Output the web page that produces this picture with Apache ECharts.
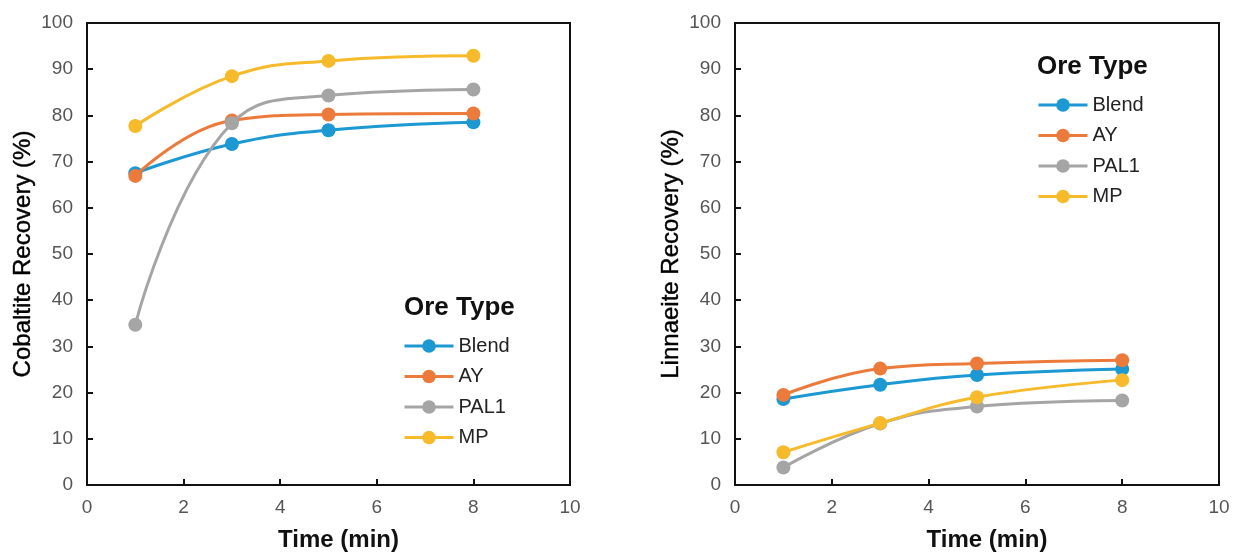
<!DOCTYPE html>
<html>
<head>
<meta charset="utf-8">
<script src="https://cdn.jsdelivr.net/npm/echarts@6/dist/echarts.min.js"></script>
<style>html,body{margin:0;padding:0;background:#fff;}#c{width:1242px;height:557px;}</style>
</head>
<body>
<div id="c"></div>
<script>
var seriesNames = ['Blend', 'AY', 'PAL1', 'MP'];
var times = [1, 3, 5, 8];
var cobaltBlend = [67.5, 73.8, 76.8, 78.5];
var cobaltAY = [66.9, 78.9, 80.2, 80.4];
var cobaltPAL1 = [34.7, 78.3, 84.3, 85.6];
var cobaltMP = [77.7, 88.5, 91.8, 92.9];
var linnBlend = [18.6, 21.7, 23.8, 25.1];
var linnAY = [19.5, 25.2, 26.3, 27.0];
var linnPAL1 = [3.8, 13.3, 17.0, 18.3];
var linnMP = [7.1, 13.4, 19.0, 22.7];
var xTicks = [0, 2, 4, 6, 8, 10];
var yTicks = [0, 10, 20, 30, 40, 50, 60, 70, 80, 90, 100];
var colors = ['#1C98D2', '#EC7A3A', '#A5A5A5', '#F7BA2A'];

var FONT = 'Liberation Sans, Arial, sans-serif';
function pairs(vals) { return times.map(function (t, i) { return [t, vals[i]]; }); }

function xAxis(gi) {
  return {
    type: 'value', gridIndex: gi, min: xTicks[0], max: xTicks[xTicks.length - 1], interval: 2,
    name: 'Time (min)', nameLocation: 'middle', nameGap: 43,
    nameTextStyle: { fontFamily: FONT, fontSize: 24, fontWeight: 'bold', color: '#111', padding: [0, 0, 0, 20] },
    axisLine: { show: true, lineStyle: { color: '#111', width: 2 } },
    axisTick: { show: true, inside: true, length: 6, lineStyle: { color: '#111', width: 2 } },
    axisLabel: { fontFamily: FONT, fontSize: 19, color: '#555', margin: 13 },
    splitLine: { show: false }
  };
}
function yAxis(gi, name) {
  return {
    type: 'value', gridIndex: gi, min: yTicks[0], max: yTicks[yTicks.length - 1], interval: 10,
    name: name, nameLocation: 'middle', nameGap: 52, nameRotate: 90,
    nameTextStyle: { fontFamily: FONT, fontSize: 24, color: '#000', textBorderColor: '#000', textBorderWidth: 0.4 },
    axisLine: { show: true, lineStyle: { color: '#111', width: 2 } },
    axisTick: { show: true, inside: true, length: 6, lineStyle: { color: '#111', width: 2 } },
    axisLabel: { fontFamily: FONT, fontSize: 19, color: '#555', margin: 14 },
    splitLine: { show: false }
  };
}
function mk(name, vals, ci, gi) {
  return {
    name: name, type: 'line', xAxisIndex: gi, yAxisIndex: gi, data: pairs(vals),
    smooth: 0.45, symbol: 'circle', symbolSize: 14,
    lineStyle: { width: 3, color: colors[ci] },
    itemStyle: { color: colors[ci] }, z: 2 + ci
  };
}
function legend(left, top) {
  return {
    data: seriesNames.map(function (n) { return { name: n }; }),
    orient: 'vertical', left: left, top: top, padding: 0,
    itemWidth: 49, itemHeight: 17, itemGap: 10.5,
    lineStyle: { width: 3 },
    textStyle: { fontFamily: FONT, fontSize: 20, color: '#222', padding: [0, 0, 0, 0] },
    selectedMode: false
  };
}

var chart = echarts.init(document.getElementById('c'), null, { renderer: 'canvas' });
var cob = [cobaltBlend, cobaltAY, cobaltPAL1, cobaltMP];
var lin = [linnBlend, linnAY, linnPAL1, linnMP];
var series = [];
seriesNames.forEach(function (n, i) { series.push(mk(n, cob[i], i, 0)); });
seriesNames.forEach(function (n, i) { series.push(mk(n, lin[i], i, 1)); });

chart.setOption({
  animation: false,
  backgroundColor: '#fff',
  color: colors,
  title: [
    { text: 'Ore Type', left: 399, top: 290, textStyle: { fontFamily: FONT, fontSize: 26, fontWeight: 'bold', color: '#111' } },
    { text: 'Ore Type', left: 1032, top: 49, textStyle: { fontFamily: FONT, fontSize: 26, fontWeight: 'bold', color: '#111' } }
  ],
  grid: [
    { left: 87, top: 23, width: 483, height: 465, show: true, borderColor: '#111', borderWidth: 2, backgroundColor: 'transparent' },
    { left: 735, top: 23, width: 484, height: 464, show: true, borderColor: '#111', borderWidth: 2, backgroundColor: 'transparent' }
  ],
  xAxis: [xAxis(0), xAxis(1)],
  yAxis: [yAxis(0, 'Cobaltite Recovery (%)'), yAxis(1, 'Linnaeite Recovery (%)')],
  legend: [legend(403, 336), legend(1037, 95)],
  series: series
});
</script>
</body>
</html>
